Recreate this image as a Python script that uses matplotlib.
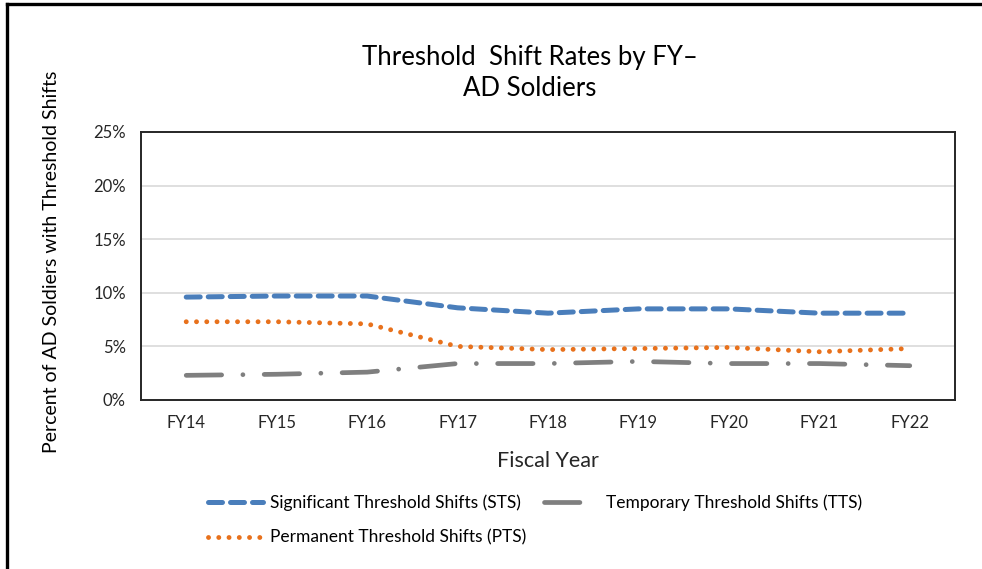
import matplotlib
matplotlib.use('Agg')
import matplotlib.pyplot as plt
from matplotlib.lines import Line2D

plt.rcParams['font.family'] = ['Lato', 'DejaVu Sans']

years = ['FY14', 'FY15', 'FY16', 'FY17', 'FY18', 'FY19', 'FY20', 'FY21', 'FY22']
sts = [9.6, 9.7, 9.7, 8.6, 8.1, 8.5, 8.5, 8.1, 8.1]
pts = [7.3, 7.3, 7.1, 5.0, 4.7, 4.8, 4.9, 4.5, 4.8]
tts = [2.3, 2.4, 2.6, 3.4, 3.4, 3.6, 3.4, 3.4, 3.2]
y_ticks = [0, 5, 10, 15, 20, 25]

blue = '#4a7ebb'
orange = '#e8711c'
grey = '#7f7f7f'

W, H = 982, 569
fig = plt.figure(figsize=(W / 100, H / 100), dpi=100)

# outer frame (only top and left edges show)
fig.add_artist(Line2D([7 / W, 1.0], [1 - 4 / H, 1 - 4 / H], color='black', lw=2.4))
fig.add_artist(Line2D([7 / W, 7 / W], [0.0, 1 - 4 / H], color='black', lw=2.4))

ax = fig.add_axes([141 / W, (H - 400) / H, 814 / W, 268 / H])
x = list(range(len(years)))

ax.plot(x, sts, color=blue, lw=3.6, dashes=(2.8, 1.6), dash_capstyle='round', label='Significant Threshold Shifts (STS)')
ax.plot(x, tts, color=grey, lw=3.4, dashes=(7.5, 4.5, 0.01, 4.5), dash_capstyle='round', label='Temporary Threshold Shifts (TTS)')
ax.plot(x, pts, color=orange, lw=3.5, dashes=(0.01, 2.1), dash_capstyle='round', label='Permanent Threshold Shifts (PTS)')

ax.set_xlim(-0.5, len(years) - 0.5)
ax.set_ylim(0, 25)
ax.set_yticks(y_ticks)
ax.set_yticklabels([f'{v}%' for v in y_ticks])
ax.set_xticks(x)
ax.set_xticklabels(years)
ax.tick_params(length=0, labelsize=12, pad=11, colors='#262626')
ax.yaxis.grid(True, color='#d9d9d9', lw=1.2)
ax.set_axisbelow(True)
for s in ax.spines.values():
    s.set_color('#262626')
    s.set_linewidth(1.4)

ax.set_xlabel('Fiscal Year', fontsize=15.5, color='#262626', labelpad=14)
fig.text(52 / W, 1 - 262 / H, 'Percent of AD Soldiers with Threshold Shifts', rotation=90,
         ha='center', va='center', fontsize=14, color='#000000')

fig.text(530 / W, 1 - 73 / H, 'Threshold  Shift Rates by FY\u2013\nAD Soldiers', ha='center', va='center',
         fontsize=18.5, linespacing=1.35, color='#000000')

h = ax.get_legend_handles_labels()
handles = [h[0][0], h[0][2], h[0][1]]
labels = [h[1][0], h[1][2], h[1][1]]
fig.legend(handles, labels, ncol=2, loc='center', bbox_to_anchor=(535 / W, 1 - 520 / H),
           frameon=False, fontsize=12.5, handlelength=3.2, columnspacing=1.0,
           labelspacing=1.1, handletextpad=0.4)

fig.savefig('out.png', dpi=100)
